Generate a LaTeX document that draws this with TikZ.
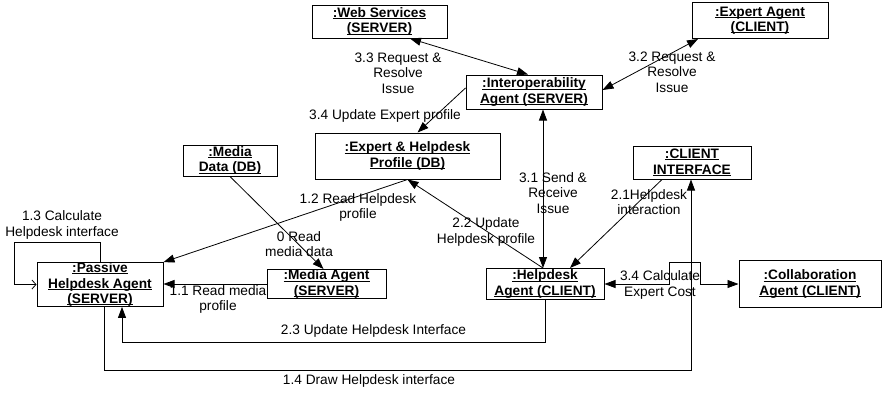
\documentclass[tikz,border=0pt]{standalone}
\usepackage{fontspec}
\setmainfont{Liberation Sans}
\usetikzlibrary{arrows.meta}
\newcommand\ulbox[1]{\leavevmode\setbox0=\hbox{#1}\copy0\kern-\wd0\raisebox{-1.9pt}{\rule{\wd0}{1.1pt}}}
\newcommand\objfont{\fontsize{13.7}{15.5}\selectfont\bfseries}
\newcommand\lblfont{\fontsize{13.7}{15.5}\selectfont}
\begin{document}
\begin{tikzpicture}[x=1pt,y=-1pt,
  obj/.style={draw, line width=1pt, inner sep=0pt, align=center, font=\objfont},
  lbl/.style={inner sep=0pt, align=center, font=\lblfont},
  conn/.style={line width=0.8pt},
  tri/.tip={Triangle[length=11pt,width=8pt]},
  one/.style={conn,-tri},
  two/.style={conn,tri-tri}]
\useasboundingbox (0,0) rectangle (883,392);

% objects
\node[obj, minimum width=135pt, minimum height=33pt] (web) at (379.5,21.5) {\ulbox{:Web Services}\\\ulbox{(SERVER)}};
\node[obj, minimum width=136pt, minimum height=36pt] (expert) at (760,20.5) {\ulbox{:Expert Agent}\\\ulbox{(CLIENT)}};
\node[obj, minimum width=136pt, minimum height=34pt] (interop) at (534,92) {\ulbox{:Interoperability}\\\ulbox{Agent (SERVER)}};
\node[obj, minimum width=185pt, minimum height=46pt] (profile) at (407.5,156) {\ulbox{:Expert \& Helpdesk}\\\ulbox{Profile (DB)}};
\node[obj, minimum width=94pt, minimum height=31pt] (mediadata) at (230,160.5) {\ulbox{:Media}\\\ulbox{Data (DB)}};
\node[obj, minimum width=118pt, minimum height=33pt] (clientif) at (692,162.5) {\ulbox{:CLIENT}\\\ulbox{INTERFACE}};
\node[obj, minimum width=126pt, minimum height=43pt] (passive) at (100,284.5) {\ulbox{:Passive}\\\ulbox{Helpdesk Agent}\\\ulbox{(SERVER)}};
\node[obj, minimum width=119pt, minimum height=29pt] (mediaagent) at (326.5,284) {\ulbox{:Media Agent}\\\ulbox{(SERVER)}};
\node[obj, minimum width=118pt, minimum height=31pt] (helpdesk) at (545,284) {\ulbox{:Helpdesk}\\\ulbox{Agent (CLIENT)}};
\node[obj, minimum width=142pt, minimum height=47pt] (collab) at (810,284) {\ulbox{:Collaboration}\\\ulbox{Agent (CLIENT)}};

% connectors
\draw[two] ([xshift=30.5pt]web.south) -- ([xshift=-6pt]interop.north);
\draw[two] ([xshift=-62pt]expert.south) -- ([yshift=2pt]interop.east);
\draw[one] ([yshift=4pt]interop.west) -- ([xshift=10pt]profile.north);
\draw[two] ([xshift=-2pt]helpdesk.north) coordinate (h31) -- (h31 |- interop.south);
\draw[one] ([xshift=-30pt]clientif.south) -- ([xshift=25pt]helpdesk.north);
\draw[one] (h31) -- (profile.south);
\draw[one] (profile.south) -- (passive.north east);
\draw[one] (mediadata.south) -- ([xshift=-3pt]mediaagent.north);
\draw[one] (mediaagent.west) -- (mediaagent.west -| passive.east);
\coordinate (loopc) at (14,242);
\draw[conn,-{Straight Barb[length=4pt,width=9pt]}] (passive.north) |- (loopc) |- (passive.west);
\draw[one] (helpdesk.south) -- ++(0,42) -| ([xshift=22pt]passive.south);
\draw[one] ([xshift=4pt]passive.south) -- ++(0,64) -| ([xshift=-1pt]clientif.south);
\draw[two] (helpdesk.east) -- ++(65,0) -- ++(0,-22) -- ++(31,0) |- (collab.west);

% labels
\node[lbl] (l33) at (398,73) {3.3 Request \&\\Resolve\\Issue};
\node[lbl] (l32) at (672,72) {3.2 Request \&\\Resolve\\Issue};
\node[lbl] (l34a) at (385,116) {3.4 Update Expert profile};
\node[lbl] (l31) at (553,193) {3.1 Send \&\\Receive\\Issue};
\node[lbl] (l21) at (649,202) {2.1Helpdesk\\interaction};
\node[lbl] (l22) at (486,232) {2.2 Update\\Helpdesk profile};
\node[lbl] (l12) at (358,207.5) {1.2 Read Helpdesk\\profile};
\node[lbl] (l0) at (299,244) {0 Read\\media data};
\node[lbl] (l11) at (218,299.5) {1.1 Read media\\profile};
\node[lbl] (l13) at (62,225) {1.3 Calculate\\Helpdesk interface};
\node[lbl] (l34b) at (660,285) {3.4 Calculate\\Expert Cost};
\node[lbl] (l23) at (373.5,331) {2.3 Update Helpdesk Interface};
\node[lbl] (l14) at (369,381) {1.4 Draw Helpdesk interface};
\end{tikzpicture}
\end{document}
